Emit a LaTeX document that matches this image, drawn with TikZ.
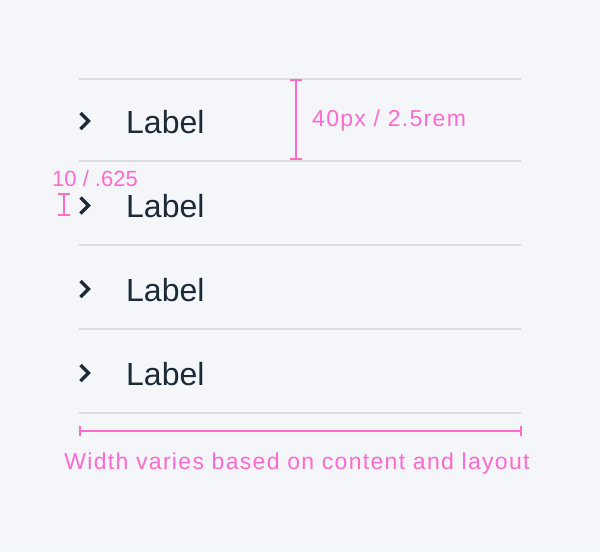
\documentclass[tikz,border=0pt]{standalone}
\usepackage{fontspec}
\setmainfont{Liberation Sans}
\newfontfamily\guidefont[LetterSpace=5.7]{Liberation Sans}
\usetikzlibrary{positioning}

\definecolor{pagebg}{HTML}{F5F6FA}
\definecolor{rulegrey}{HTML}{DCDDE2}
\definecolor{ink}{HTML}{1D2B36}
\definecolor{guide}{HTML}{FF6ACF}

\tikzset{
  rowlabel/.style={anchor=base west, inner sep=0pt, text=ink, font=\fontsize{32}{32}\selectfont},
  guidetext/.style={inner sep=0pt, text=guide, font=\guidefont\fontsize{23}{23}\selectfont},
  divider/.style={draw=rulegrey, line width=2pt},
  chevron/.style={draw=ink, line width=3.4pt, line join=miter},
  guideline/.style={draw=guide, line width=2pt},
}

\begin{document}
\begin{tikzpicture}[x=1pt, y=-1pt]
  % Background
  \fill[pagebg] (0,0) rectangle (600,552);
  \useasboundingbox (0,0) rectangle (600,552);

  % Dividers
  \draw[divider] (79,78.5) -- (521,78.5);
  \draw[divider] (79,161) -- (521,161);
  \draw[divider] (79,245) -- (521,245);
  \draw[divider] (79,329) -- (521,329);
  \draw[divider] (79,413) -- (521,413);

  % Chevrons
  \draw[chevron] (80.5,113) -- (88.5,121) -- (80.5,129);
  \draw[chevron] (80.5,197.5) -- (88.5,205.5) -- (80.5,213.5);
  \draw[chevron] (80.5,281) -- (88.5,289) -- (80.5,297);
  \draw[chevron] (80.5,365) -- (88.5,373) -- (80.5,381);

  % Row labels
  \node[rowlabel] (label1) at (126,133) {Label};
  \node[rowlabel] (label2) at (126,217.5) {Label};
  \node[rowlabel] (label3) at (126,301) {Label};
  \node[rowlabel] (label4) at (126,385) {Label};

  % Row height guide
  \coordinate (htop) at (296,80);
  \coordinate (hbot) at (296,159);
  \draw[guideline] (htop) -- (hbot);
  \draw[guideline] ([xshift=-6pt]htop) -- ([xshift=6pt]htop);
  \draw[guideline] ([xshift=-6pt]hbot) -- ([xshift=6pt]hbot);
  \node[guidetext, anchor=base west] (heightnote) at (312,126) {40px / 2.5rem};

  % Padding guide
  \coordinate (ptop) at (64,194);
  \coordinate (pbot) at (64,215);
  \draw[guideline] (ptop) -- (pbot);
  \draw[guideline] ([xshift=-6pt]ptop) -- ([xshift=6pt]ptop);
  \draw[guideline] ([xshift=-6pt]pbot) -- ([xshift=6pt]pbot);
  \node[inner sep=0pt, text=guide, font=\fontsize{22}{22}\selectfont, anchor=base west] (padnote) at (52,186.5) {10 / .625};

  % Width guide
  \coordinate (wleft) at (80,430.5);
  \coordinate (wright) at (521,430.5);
  \draw[guideline] (wleft) -- (wright);
  \draw[guideline] ([yshift=-5pt]wleft) -- ([yshift=5pt]wleft);
  \draw[guideline] ([yshift=-5pt]wright) -- ([yshift=5pt]wright);
  \node[guidetext, anchor=base] (widthnote) at (297,469) {Width varies based on content and layout};
\end{tikzpicture}
\end{document}
